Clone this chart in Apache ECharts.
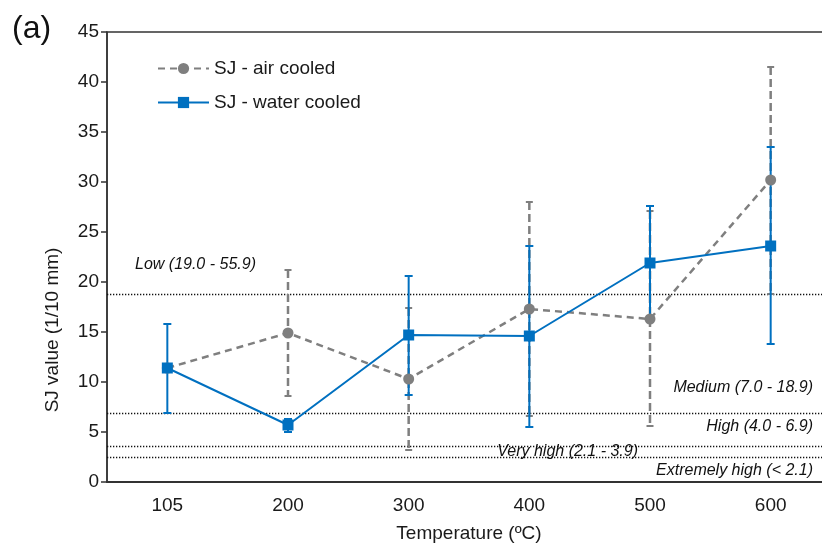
<!DOCTYPE html>
<html>
<head>
<meta charset="utf-8">
<script src="https://cdn.jsdelivr.net/npm/echarts@6/dist/echarts.min.js"></script>
<style>
html,body{margin:0;padding:0;background:#fff;}
#chart{width:822px;height:543px;}
</style>
</head>
<body>
<div id="chart"></div>
<script>
const categories = ['105', '200', '300', '400', '500', '600'];
const airMean  = [11.4, 14.9, 10.3, 17.3, 16.3, 30.2];
const airLow   = [null, 8.6, 3.2, 6.6, 5.6, 18.8];
const airHigh  = [null, 21.2, 17.4, 28.0, 27.1, 41.5];
const waterMean = [11.4, 5.7, 14.7, 14.6, 21.9, 23.6];
const waterLow  = [6.9, 5.0, 8.7, 5.5, 16.3, 13.8];
const waterHigh = [15.8, 6.3, 20.6, 23.6, 27.6, 33.5];
const thresholds = [18.8, 6.9, 3.6, 2.5];
const classLabels = ['Low (19.0 - 55.9)', 'Medium (7.0 - 18.9)', 'High (4.0 - 6.9)', 'Very high (2.1 - 3.9)', 'Extremely high (< 2.1)'];
const yTicks = {min: 0, max: 45, interval: 5};

const BLUE = '#0070C0';
const GREY = '#7F7F7F';
const FONT = 'Liberation Sans, Arial, sans-serif';

function errorRenderer(color, dash, capHalf, width) {
  return function (params, api) {
    const i = api.value(0);
    const lo = api.value(1), hi = api.value(2);
    if (isNaN(lo) || isNaN(hi)) return;
    const pTop = api.coord([i, hi]);
    const pBot = api.coord([i, lo]);
    const style = {stroke: color, lineWidth: width, lineDash: dash};
    return {
      type: 'group',
      children: [
        {type: 'line', shape: {x1: pTop[0], y1: pTop[1], x2: pBot[0], y2: pBot[1]}, style: style},
        {type: 'line', shape: {x1: pTop[0] - capHalf, y1: pTop[1], x2: pTop[0] + capHalf, y2: pTop[1]}, style: {stroke: color, lineWidth: 2}},
        {type: 'line', shape: {x1: pBot[0] - capHalf, y1: pBot[1], x2: pBot[0] + capHalf, y2: pBot[1]}, style: {stroke: color, lineWidth: 2}}
      ]
    };
  };
}

const chart = echarts.init(document.getElementById('chart'), null, {renderer: 'canvas'});
const option = {
  animation: false,
  backgroundColor: '#fff',
  textStyle: {fontFamily: FONT},
  grid: {left: 107, top: 32, width: 724, height: 450, outerBoundsMode: 'none', containLabel: false,
         show: true, borderColor: '#333', borderWidth: 1.5, backgroundColor: 'transparent'},
  legend: {
    orient: 'vertical',
    left: 152, top: 54,
    itemWidth: 51, itemHeight: 14, itemGap: 15,
    textStyle: {fontSize: 19, color: '#1a1a1a', lineHeight: 19, fontFamily: FONT},
    data: ['SJ - air cooled', 'SJ - water cooled']
  },
  xAxis: {
    type: 'category',
    data: categories,
    boundaryGap: true,
    name: 'Temperature (ºC)',
    nameLocation: 'middle',
    nameGap: 42,
    nameTextStyle: {fontSize: 19, color: '#1a1a1a', fontFamily: FONT},
    axisLine: {lineStyle: {color: '#333', width: 2}},
    axisTick: {alignWithLabel: true, length: 5, lineStyle: {color: '#333', width: 1.5}},
    axisLabel: {fontSize: 19, color: '#1a1a1a', margin: 14, fontFamily: FONT},
    splitLine: {show: false}
  },
  yAxis: {
    type: 'value',
    min: yTicks.min, max: yTicks.max, interval: yTicks.interval,
    axisLine: {show: true, lineStyle: {color: '#333', width: 1.5}},
    axisTick: {show: true, length: 6, lineStyle: {color: '#333', width: 1.5}},
    axisLabel: {fontSize: 19, color: '#1a1a1a', margin: 8, fontFamily: FONT},
    splitLine: {show: false}
  },
  series: [
    {
      name: 'air-err', type: 'custom', z: 2,
      renderItem: errorRenderer(GREY, [8, 4], 3.5, 2.5),
      encode: {x: 0, y: [1, 2]},
      data: categories.map((c, i) => [i, airLow[i] == null ? '-' : airLow[i], airHigh[i] == null ? '-' : airHigh[i]])
    },
    {
      name: 'water-err', type: 'custom', z: 3,
      renderItem: errorRenderer(BLUE, null, 4, 2),
      encode: {x: 0, y: [1, 2]},
      data: categories.map((c, i) => [i, waterLow[i], waterHigh[i]])
    },
    {
      name: 'SJ - air cooled', type: 'line', z: 4,
      data: airMean,
      symbol: 'circle', symbolSize: 11,
      itemStyle: {color: GREY},
      lineStyle: {color: GREY, width: 2.5, type: [7, 5]},
      markLine: {
        silent: true, symbol: 'none', z: 1,
        label: {show: false},
        lineStyle: {color: '#111', width: 1.3, type: [1.3, 1.7]},
        data: thresholds.map(v => ({yAxis: v}))
      }
    },
    {
      name: 'SJ - water cooled', type: 'line', z: 5,
      data: waterMean,
      symbol: 'rect', symbolSize: 11,
      itemStyle: {color: BLUE},
      lineStyle: {color: BLUE, width: 2}
    }
  ]
};
chart.setOption(option);

// annotation texts anchored to threshold lines
const yPix = v => chart.convertToPixel({yAxisIndex: 0}, v);
const annStyle = {fontSize: 16, fontStyle: 'italic', fill: '#111', fontFamily: FONT};
chart.setOption({
  graphic: [
    {type: 'text', left: 12, top: 13, style: {text: '(a)', fontSize: 32, fill: '#111', fontFamily: FONT}},
    {type: 'text', x: 53, y: 330, rotation: Math.PI / 2, style: {text: 'SJ value (1/10 mm)', fontSize: 19, fill: '#1a1a1a', fontFamily: FONT, align: 'center', verticalAlign: 'middle'}},
    {type: 'text', x: 135, y: yPix(thresholds[0]) - 29, style: Object.assign({}, annStyle, {text: classLabels[0], align: 'left', verticalAlign: 'middle'})},
    {type: 'text', x: 813, y: yPix(thresholds[1]) - 25, style: Object.assign({}, annStyle, {text: classLabels[1], align: 'right', verticalAlign: 'middle'})},
    {type: 'text', x: 813, y: yPix(thresholds[1]) + 14, style: Object.assign({}, annStyle, {text: classLabels[2], align: 'right', verticalAlign: 'middle'})},
    {type: 'text', x: 638, y: (yPix(thresholds[2]) + yPix(thresholds[3])) / 2, style: Object.assign({}, annStyle, {text: classLabels[3], align: 'right', verticalAlign: 'middle'})},
    {type: 'text', x: 813, y: yPix(thresholds[3]) + 14, style: Object.assign({}, annStyle, {text: classLabels[4], align: 'right', verticalAlign: 'middle'})}
  ]
});
</script>
</body>
</html>
